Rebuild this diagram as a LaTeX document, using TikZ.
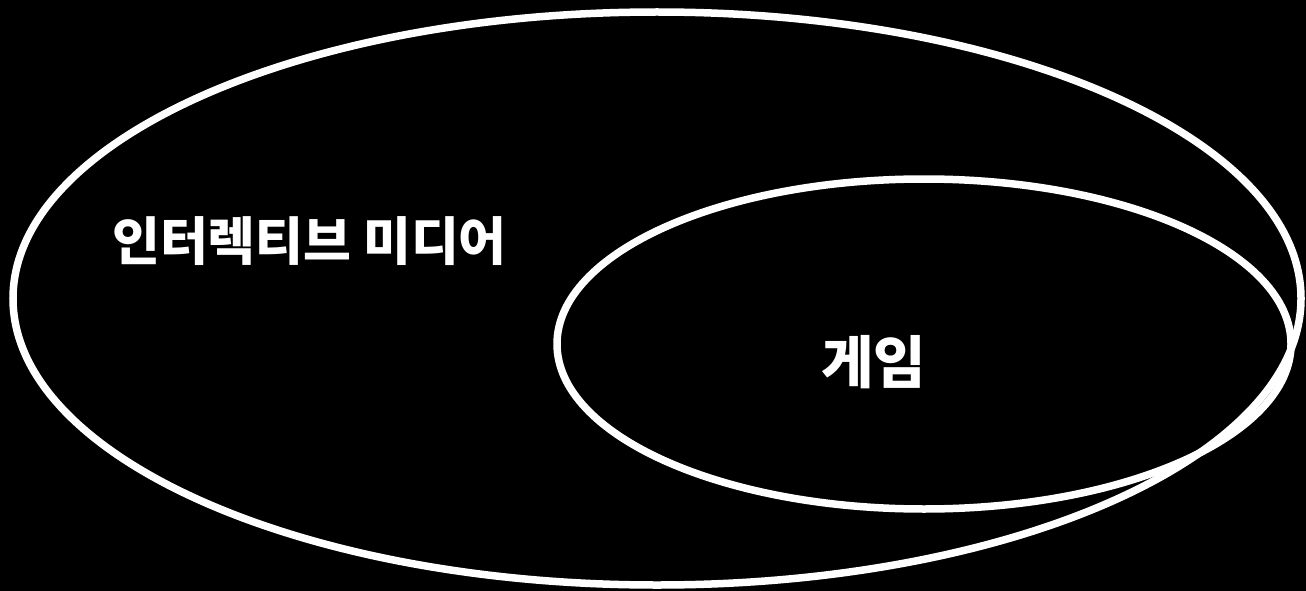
\documentclass[tikz,border=0pt]{standalone}
\usepackage{fontspec}
\setmainfont{Noto Sans CJK KR}
\usetikzlibrary{shapes.geometric}
\tikzset{
  ring/.style={ellipse, draw=white, line width=7.5pt, inner sep=0pt},
  label/.style={text=white, font=\bfseries, inner sep=0pt}
}
\begin{document}
\begin{tikzpicture}[x=1pt, y=-1pt]
  \fill[black] (0,0) rectangle (1306,591);
  \useasboundingbox (0,0) rectangle (1306,591);
  \node[ring, minimum width=1288pt, minimum height=573pt] (media) at (657,298.5) {};
  \node[ring, minimum width=734pt, minimum height=330pt] (game) at (924,344) {};
  \node[label, font=\bfseries\fontsize{52}{56}\selectfont] (medialabel) at (309.5,241) {인터렉티브 미디어};
  \node[label, font=\bfseries\fontsize{57}{60}\selectfont] (gamelabel) at (873.5,362) {게임};
\end{tikzpicture}
\end{document}
